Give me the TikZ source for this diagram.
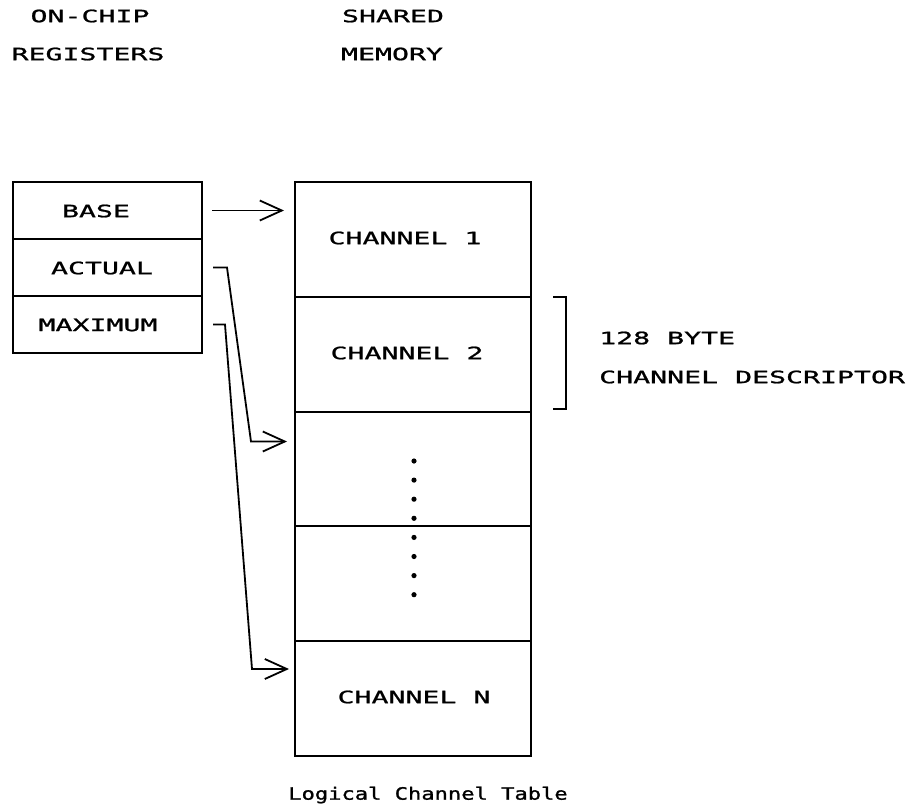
\documentclass[tikz,border=0pt]{standalone}
\usepackage{fontspec}
\newfontfamily\plotfont[FakeStretch=1.66,FakeBold=1.2]{DejaVu Sans Mono}
\newfontfamily\plotlow[FakeStretch=1.30,FakeBold=1.2]{DejaVu Sans Mono}
\usetikzlibrary{arrows.meta}
\begin{document}
\begin{tikzpicture}[x=1pt,y=-1pt,
  cell/.style={draw, line width=2pt, minimum width=236pt, minimum height=114.8pt, inner sep=0pt, outer sep=0pt},
  reg/.style={draw, line width=2pt, minimum width=189pt, minimum height=57pt, inner sep=0pt, outer sep=0pt},
  txt/.style={font=\plotfont\fontsize{17}{18}\selectfont, inner sep=0pt},
  lowtxt/.style={font=\plotlow\fontsize{17}{18}\selectfont, inner sep=0pt},
  arr/.style={line width=1.8pt, -{Straight Barb[length=22pt,width=20pt,line width=1.8pt]}},
  wire/.style={line width=1.8pt}]
\useasboundingbox (0,0) rectangle (922,804);
% headings
\node[txt] (h1) at (90,16) {ON-CHIP};
\node[txt] (h2) at (88,54) {REGISTERS};
\node[txt] (h3) at (393,16) {SHARED};
\node[txt] (h4) at (392,54) {MEMORY};
% registers
\node[reg] (base) at (107.5,210.5) {};
\node[reg] (act) at (107.5,267.5) {};
\node[reg] (max) at (107.5,324.5) {};
\node[txt] (tb) at (96,211) {BASE};
\node[txt] (ta) at (102,268) {ACTUAL};
\node[txt] (tm) at (98,325) {MAXIMUM};
% table
\node[cell] (c1) at (413,239.4) {};
\node[cell] (c2) at (413,354.2) {};
\node[cell] (c3) at (413,469.0) {};
\node[cell] (c4) at (413,583.8) {};
\node[cell] (c5) at (413,698.6) {};
\node[txt] (t1) at (405,238) {CHANNEL 1};
\node[txt] (t2) at (407,353) {CHANNEL 2};
\node[txt] (tn) at (414,697) {CHANNEL N};
\foreach \i in {0,...,7} \fill (414,{461+19.1*\i}) circle (2.6pt);
\node[lowtxt] (cap) at (428,795) {Logical Channel Table};
% bracket
\coordinate (b1) at (553,297);
\coordinate (b2) at (566,297);
\coordinate (b3) at (566,409);
\coordinate (b4) at (553,409);
\draw[wire] (b1) -- (b2) -- (b3) -- (b4);
\node[txt, anchor=west] (d1) at (599,338) {128 BYTE};
\node[txt, anchor=west] (d2) at (599,377) {CHANNEL DESCRIPTOR};
% connectors
\draw[arr, shorten >=11pt] ([xshift=10pt]base.east) -- (base.east -| c1.west);
\coordinate (a1) at (227,267.5);
\coordinate (a2) at (251,441.5);
\draw[arr, shorten >=8pt] ([xshift=11pt]act.east) -- (a1) -- (a2) -- (a2 -| c3.west);
\coordinate (m1) at (225,324.5);
\coordinate (m2) at (252,669);
\draw[arr, shorten >=6pt] ([xshift=11pt]max.east) -- (m1) -- (m2) -- (m2 -| c5.west);
\end{tikzpicture}
\end{document}
